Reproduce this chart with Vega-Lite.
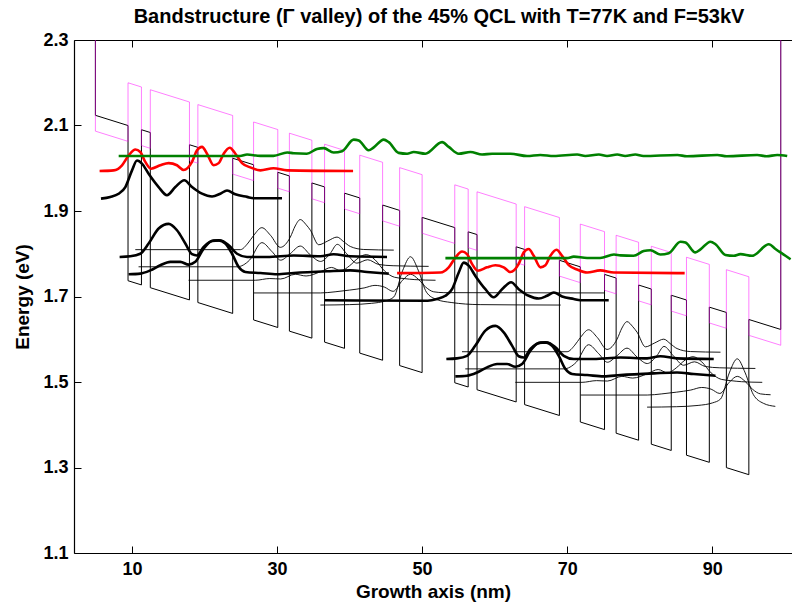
{
  "$schema": "https://vega.github.io/schema/vega-lite/v6.json",
  "width": 718,
  "height": 513,
  "autosize": {"type": "none"},
  "padding": {"left": 74, "top": 40, "right": 0, "bottom": 55},
  "title": {
    "text": "Bandstructure (Γ valley) of the 45% QCL with T=77K and F=53kV",
    "font": "Liberation Sans",
    "fontSize": 20,
    "fontWeight": "bold",
    "color": "black",
    "anchor": "middle",
    "dx": 6,
    "offset": 4
  },
  "config": {
    "view": {"stroke": null},
    "axis": {
      "labelFont": "Liberation Sans",
      "labelFontWeight": "bold",
      "labelFontSize": 18,
      "labelColor": "black",
      "titleFont": "Liberation Sans",
      "titleFontWeight": "bold",
      "titleFontSize": 19,
      "titleColor": "black",
      "domain": true,
      "domainColor": "black",
      "domainWidth": 1.2,
      "tickColor": "black",
      "tickWidth": 1,
      "grid": false
    }
  },
  "datasets": {
    "gamma": [
      {"i":0,"x":4.95,"y":2.45},{"i":1,"x":4.95,"y":2.1238},{"i":2,"x":9.45,"y":2.0999},{"i":3,"x":9.45,"y":1.7369},
      {"i":4,"x":11.30,"y":1.7271},{"i":5,"x":11.30,"y":2.0901},{"i":6,"x":12.52,"y":2.0836},{"i":7,"x":12.52,"y":1.7206},
      {"i":8,"x":17.92,"y":1.6920},{"i":9,"x":17.92,"y":2.0550},{"i":10,"x":19.08,"y":2.0489},{"i":11,"x":19.08,"y":1.6859},
      {"i":12,"x":23.88,"y":1.6604},{"i":13,"x":23.88,"y":2.0234},{"i":14,"x":26.76,"y":2.0082},{"i":15,"x":26.76,"y":1.6452},
      {"i":16,"x":30.10,"y":1.6275},{"i":17,"x":30.10,"y":1.9905},{"i":18,"x":31.70,"y":1.9820},{"i":19,"x":31.70,"y":1.6190},
      {"i":20,"x":34.80,"y":1.6026},{"i":21,"x":34.80,"y":1.9656},{"i":22,"x":36.55,"y":1.9563},{"i":23,"x":36.55,"y":1.5933},
      {"i":24,"x":39.30,"y":1.5787},{"i":25,"x":39.30,"y":1.9417},{"i":26,"x":41.40,"y":1.9306},{"i":27,"x":41.40,"y":1.5676},
      {"i":28,"x":44.55,"y":1.5509},{"i":29,"x":44.55,"y":1.9139},{"i":30,"x":46.90,"y":1.9014},{"i":31,"x":46.90,"y":1.5384},
      {"i":32,"x":50.00,"y":1.5220},{"i":33,"x":50.00,"y":1.8850},{"i":34,"x":54.50,"y":1.8612},{"i":35,"x":54.50,"y":1.4982},
      {"i":36,"x":56.35,"y":1.4883},{"i":37,"x":56.35,"y":1.8513},{"i":38,"x":57.57,"y":1.8449},{"i":39,"x":57.57,"y":1.4819},
      {"i":40,"x":62.97,"y":1.4533},{"i":41,"x":62.97,"y":1.8163},{"i":42,"x":64.13,"y":1.8101},{"i":43,"x":64.13,"y":1.4471},
      {"i":44,"x":68.93,"y":1.4217},{"i":45,"x":68.93,"y":1.7847},{"i":46,"x":71.81,"y":1.7694},{"i":47,"x":71.81,"y":1.4064},
      {"i":48,"x":75.15,"y":1.3887},{"i":49,"x":75.15,"y":1.7517},{"i":50,"x":76.75,"y":1.7432},{"i":51,"x":76.75,"y":1.3802},
      {"i":52,"x":79.85,"y":1.3638},{"i":53,"x":79.85,"y":1.7268},{"i":54,"x":81.60,"y":1.7175},{"i":55,"x":81.60,"y":1.3545},
      {"i":56,"x":84.35,"y":1.3399},{"i":57,"x":84.35,"y":1.7029},{"i":58,"x":86.45,"y":1.6918},{"i":59,"x":86.45,"y":1.3288},
      {"i":60,"x":89.60,"y":1.3121},{"i":61,"x":89.60,"y":1.6751},{"i":62,"x":91.95,"y":1.6627},{"i":63,"x":91.95,"y":1.2997},
      {"i":64,"x":95.05,"y":1.2832},{"i":65,"x":95.05,"y":1.6462},{"i":66,"x":99.45,"y":1.6229},{"i":67,"x":99.45,"y":2.45}
    ],
    "xband": [
      {"i":0,"x":4.95,"y":2.45},{"i":1,"x":4.95,"y":2.0868},{"i":2,"x":9.45,"y":2.0629},{"i":3,"x":9.45,"y":2.1999},
      {"i":4,"x":11.30,"y":2.1901},{"i":5,"x":11.30,"y":2.0531},{"i":6,"x":12.52,"y":2.0466},{"i":7,"x":12.52,"y":2.1836},
      {"i":8,"x":17.92,"y":2.1550},{"i":9,"x":17.92,"y":2.0180},{"i":10,"x":19.08,"y":2.0119},{"i":11,"x":19.08,"y":2.1489},
      {"i":12,"x":23.88,"y":2.1234},{"i":13,"x":23.88,"y":1.9864},{"i":14,"x":26.76,"y":1.9712},{"i":15,"x":26.76,"y":2.1082},
      {"i":16,"x":30.10,"y":2.0905},{"i":17,"x":30.10,"y":1.9535},{"i":18,"x":31.70,"y":1.9450},{"i":19,"x":31.70,"y":2.0820},
      {"i":20,"x":34.80,"y":2.0656},{"i":21,"x":34.80,"y":1.9286},{"i":22,"x":36.55,"y":1.9193},{"i":23,"x":36.55,"y":2.0563},
      {"i":24,"x":39.30,"y":2.0417},{"i":25,"x":39.30,"y":1.9047},{"i":26,"x":41.40,"y":1.8936},{"i":27,"x":41.40,"y":2.0306},
      {"i":28,"x":44.55,"y":2.0139},{"i":29,"x":44.55,"y":1.8769},{"i":30,"x":46.90,"y":1.8644},{"i":31,"x":46.90,"y":2.0014},
      {"i":32,"x":50.00,"y":1.9850},{"i":33,"x":50.00,"y":1.8480},{"i":34,"x":54.50,"y":1.8242},{"i":35,"x":54.50,"y":1.9612},
      {"i":36,"x":56.35,"y":1.9513},{"i":37,"x":56.35,"y":1.8143},{"i":38,"x":57.57,"y":1.8079},{"i":39,"x":57.57,"y":1.9449},
      {"i":40,"x":62.97,"y":1.9163},{"i":41,"x":62.97,"y":1.7793},{"i":42,"x":64.13,"y":1.7731},{"i":43,"x":64.13,"y":1.9101},
      {"i":44,"x":68.93,"y":1.8847},{"i":45,"x":68.93,"y":1.7477},{"i":46,"x":71.81,"y":1.7324},{"i":47,"x":71.81,"y":1.8694},
      {"i":48,"x":75.15,"y":1.8517},{"i":49,"x":75.15,"y":1.7147},{"i":50,"x":76.75,"y":1.7062},{"i":51,"x":76.75,"y":1.8432},
      {"i":52,"x":79.85,"y":1.8268},{"i":53,"x":79.85,"y":1.6898},{"i":54,"x":81.60,"y":1.6805},{"i":55,"x":81.60,"y":1.8175},
      {"i":56,"x":84.35,"y":1.8029},{"i":57,"x":84.35,"y":1.6659},{"i":58,"x":86.45,"y":1.6548},{"i":59,"x":86.45,"y":1.7918},
      {"i":60,"x":89.60,"y":1.7751},{"i":61,"x":89.60,"y":1.6381},{"i":62,"x":91.95,"y":1.6257},{"i":63,"x":91.95,"y":1.7627},
      {"i":64,"x":95.05,"y":1.7462},{"i":65,"x":95.05,"y":1.6092},{"i":66,"x":99.45,"y":1.5859},{"i":67,"x":99.45,"y":2.45}
    ],
    "thin": [
      {"s":"s1a","x":10.45,"y":1.8096},{"s":"s1a","x":24.94,"y":1.8096},{"s":"s1a","x":26.0,"y":1.825},{"s":"s1a","x":26.78,"y":1.843},{"s":"s1a","x":27.9,"y":1.861},{"s":"s1a","x":29.1,"y":1.843},{"s":"s1a","x":30.45,"y":1.815},{"s":"s1a","x":31.83,"y":1.839},{"s":"s1a","x":32.5,"y":1.865},{"s":"s1a","x":33.2,"y":1.880},{"s":"s1a","x":34.0,"y":1.868},{"s":"s1a","x":34.6,"y":1.855},{"s":"s1a","x":35.74,"y":1.821},{"s":"s1a","x":37.0,"y":1.830},{"s":"s1a","x":38.27,"y":1.839},{"s":"s1a","x":39.2,"y":1.828},{"s":"s1a","x":40.1,"y":1.817},{"s":"s1a","x":41.95,"y":1.810},{"s":"s1a","x":46.09,"y":1.8085},
      {"s":"s2a","x":10.9,"y":1.7695},{"s":"s2a","x":24.5,"y":1.7695},{"s":"s2a","x":26.2,"y":1.785},{"s":"s2a","x":27.9,"y":1.826},{"s":"s2a","x":29.3,"y":1.805},{"s":"s2a","x":30.5,"y":1.785},{"s":"s2a","x":31.8,"y":1.800},{"s":"s2a","x":33.2,"y":1.818},{"s":"s2a","x":34.6,"y":1.797},{"s":"s2a","x":36.0,"y":1.782},{"s":"s2a","x":37.3,"y":1.800},{"s":"s2a","x":38.3,"y":1.822},{"s":"s2a","x":39.6,"y":1.800},{"s":"s2a","x":41.0,"y":1.778},{"s":"s2a","x":42.5,"y":1.786},{"s":"s2a","x":44.0,"y":1.775},{"s":"s2a","x":46.0,"y":1.772},{"s":"s2a","x":50.9,"y":1.7705},
      {"s":"s3a","x":17.8,"y":1.738},{"s":"s3a","x":27.0,"y":1.738},{"s":"s3a","x":29.0,"y":1.742},{"s":"s3a","x":30.5,"y":1.741},{"s":"s3a","x":32.5,"y":1.752},{"s":"s3a","x":34.0,"y":1.748},{"s":"s3a","x":36.0,"y":1.758},{"s":"s3a","x":37.5,"y":1.768},{"s":"s3a","x":38.8,"y":1.760},{"s":"s3a","x":40.0,"y":1.772},{"s":"s3a","x":41.2,"y":1.790},{"s":"s3a","x":42.3,"y":1.798},{"s":"s3a","x":43.5,"y":1.786},{"s":"s3a","x":44.8,"y":1.760},{"s":"s3a","x":46.2,"y":1.745},{"s":"s3a","x":47.5,"y":1.742},{"s":"s3a","x":49.0,"y":1.7395},{"s":"s3a","x":51.85,"y":1.738},
      {"s":"s4a","x":26.8,"y":1.7083},{"s":"s4a","x":36.0,"y":1.7083},{"s":"s4a","x":38.0,"y":1.711},{"s":"s4a","x":40.0,"y":1.715},{"s":"s4a","x":42.0,"y":1.720},{"s":"s4a","x":43.5,"y":1.726},{"s":"s4a","x":44.8,"y":1.722},{"s":"s4a","x":46.0,"y":1.712},{"s":"s4a","x":47.3,"y":1.738},{"s":"s4a","x":48.4,"y":1.752},{"s":"s4a","x":49.5,"y":1.740},{"s":"s4a","x":50.5,"y":1.722},{"s":"s4a","x":51.6,"y":1.711},{"s":"s4a","x":53.0,"y":1.709},{"s":"s4a","x":75.1,"y":1.7083},
      {"s":"s5a","x":35.97,"y":1.680},{"s":"s5a","x":40.0,"y":1.681},{"s":"s5a","x":43.0,"y":1.684},{"s":"s5a","x":45.0,"y":1.690},{"s":"s5a","x":46.1,"y":1.699},{"s":"s5a","x":47.3,"y":1.760},{"s":"s5a","x":48.4,"y":1.793},{"s":"s5a","x":49.5,"y":1.760},{"s":"s5a","x":50.6,"y":1.710},{"s":"s5a","x":52.0,"y":1.693},{"s":"s5a","x":54.0,"y":1.686},{"s":"s5a","x":58.0,"y":1.681},{"s":"s5a","x":69.1,"y":1.680},
      {"s":"s1b","x":55.50,"y":1.5708},{"s":"s1b","x":69.99,"y":1.5708},{"s":"s1b","x":71.05,"y":1.5862},{"s":"s1b","x":71.83,"y":1.6042},{"s":"s1b","x":72.95,"y":1.6222},{"s":"s1b","x":74.15,"y":1.6042},{"s":"s1b","x":75.50,"y":1.5762},{"s":"s1b","x":76.88,"y":1.6002},{"s":"s1b","x":77.55,"y":1.6262},{"s":"s1b","x":78.25,"y":1.6412},{"s":"s1b","x":79.05,"y":1.6292},{"s":"s1b","x":79.65,"y":1.6162},{"s":"s1b","x":80.79,"y":1.5822},{"s":"s1b","x":82.05,"y":1.5912},{"s":"s1b","x":83.32,"y":1.6002},{"s":"s1b","x":84.25,"y":1.5892},{"s":"s1b","x":85.15,"y":1.5782},{"s":"s1b","x":87.00,"y":1.5712},{"s":"s1b","x":91.14,"y":1.5697},
      {"s":"s2b","x":55.95,"y":1.5307},{"s":"s2b","x":69.55,"y":1.5307},{"s":"s2b","x":71.25,"y":1.5462},{"s":"s2b","x":72.95,"y":1.5872},{"s":"s2b","x":74.35,"y":1.5662},{"s":"s2b","x":75.55,"y":1.5462},{"s":"s2b","x":76.85,"y":1.5612},{"s":"s2b","x":78.25,"y":1.5792},{"s":"s2b","x":79.65,"y":1.5582},{"s":"s2b","x":81.05,"y":1.5432},{"s":"s2b","x":82.35,"y":1.5612},{"s":"s2b","x":83.35,"y":1.5832},{"s":"s2b","x":84.65,"y":1.5612},{"s":"s2b","x":86.05,"y":1.5392},{"s":"s2b","x":87.55,"y":1.5472},{"s":"s2b","x":89.05,"y":1.5362},{"s":"s2b","x":91.05,"y":1.5332},{"s":"s2b","x":95.95,"y":1.5317},
      {"s":"s3b","x":62.85,"y":1.4992},{"s":"s3b","x":72.05,"y":1.4992},{"s":"s3b","x":74.05,"y":1.5032},{"s":"s3b","x":75.55,"y":1.5022},{"s":"s3b","x":77.55,"y":1.5132},{"s":"s3b","x":79.05,"y":1.5092},{"s":"s3b","x":81.05,"y":1.5192},{"s":"s3b","x":82.55,"y":1.5292},{"s":"s3b","x":83.85,"y":1.5212},{"s":"s3b","x":85.05,"y":1.5332},{"s":"s3b","x":86.25,"y":1.5512},{"s":"s3b","x":87.35,"y":1.5592},{"s":"s3b","x":88.55,"y":1.5472},{"s":"s3b","x":89.85,"y":1.5212},{"s":"s3b","x":91.25,"y":1.5062},{"s":"s3b","x":92.55,"y":1.5032},{"s":"s3b","x":94.05,"y":1.5007},{"s":"s3b","x":96.90,"y":1.4992},
      {"s":"s4b","x":71.85,"y":1.4695},{"s":"s4b","x":81.05,"y":1.4695},{"s":"s4b","x":83.05,"y":1.4722},{"s":"s4b","x":85.05,"y":1.4762},{"s":"s4b","x":87.05,"y":1.4812},{"s":"s4b","x":88.55,"y":1.4872},{"s":"s4b","x":89.85,"y":1.4832},{"s":"s4b","x":91.05,"y":1.4732},{"s":"s4b","x":92.35,"y":1.4992},{"s":"s4b","x":93.45,"y":1.5132},{"s":"s4b","x":94.55,"y":1.5012},{"s":"s4b","x":95.55,"y":1.4832},{"s":"s4b","x":96.65,"y":1.4722},{"s":"s4b","x":98.05,"y":1.4702},
      {"s":"s5b","x":81.02,"y":1.4412},{"s":"s5b","x":85.05,"y":1.4422},{"s":"s5b","x":88.05,"y":1.4452},{"s":"s5b","x":90.05,"y":1.4512},{"s":"s5b","x":91.15,"y":1.4602},{"s":"s5b","x":92.35,"y":1.5212},{"s":"s5b","x":93.45,"y":1.5542},{"s":"s5b","x":94.55,"y":1.5212},{"s":"s5b","x":95.65,"y":1.4712},{"s":"s5b","x":97.05,"y":1.4502},{"s":"s5b","x":98.7,"y":1.4430}
    ],
    "thick": [
      {"s":"t0a","x":5.72,"y":1.929},{"s":"t0a","x":7.0,"y":1.933},{"s":"t0a","x":8.16,"y":1.9405},{"s":"t0a","x":9.08,"y":1.956},{"s":"t0a","x":10.0,"y":1.995},{"s":"t0a","x":10.69,"y":2.018},{"s":"t0a","x":11.37,"y":2.011},{"s":"t0a","x":12.29,"y":1.987},{"s":"t0a","x":13.67,"y":1.956},{"s":"t0a","x":14.82,"y":1.937},{"s":"t0a","x":15.97,"y":1.956},{"s":"t0a","x":17.21,"y":1.972},{"s":"t0a","x":18.27,"y":1.956},{"s":"t0a","x":19.65,"y":1.9405},{"s":"t0a","x":21.03,"y":1.934},{"s":"t0a","x":22.18,"y":1.9405},{"s":"t0a","x":23.1,"y":1.948},{"s":"t0a","x":24.25,"y":1.939},{"s":"t0a","x":25.86,"y":1.933},{"s":"t0a","x":26.78,"y":1.930},{"s":"t0a","x":30.68,"y":1.930},
      {"s":"t1a","x":8.29,"y":1.7925},{"s":"t1a","x":9.76,"y":1.794},{"s":"t1a","x":11.14,"y":1.800},{"s":"t1a","x":12.29,"y":1.824},{"s":"t1a","x":13.67,"y":1.859},{"s":"t1a","x":15.05,"y":1.870},{"s":"t1a","x":16.2,"y":1.855},{"s":"t1a","x":17.35,"y":1.824},{"s":"t1a","x":18.27,"y":1.799},{"s":"t1a","x":18.96,"y":1.796},{"s":"t1a","x":19.88,"y":1.816},{"s":"t1a","x":21.26,"y":1.831},{"s":"t1a","x":22.18,"y":1.831},{"s":"t1a","x":23.33,"y":1.820},{"s":"t1a","x":24.48,"y":1.800},{"s":"t1a","x":25.86,"y":1.7925},{"s":"t1a","x":28.62,"y":1.7925},{"s":"t1a","x":32.3,"y":1.796},{"s":"t1a","x":35.97,"y":1.794},{"s":"t1a","x":37.8,"y":1.799},{"s":"t1a","x":40.1,"y":1.794},{"s":"t1a","x":45.16,"y":1.7925},
      {"s":"t2a","x":9.53,"y":1.752},{"s":"t2a","x":11.14,"y":1.7535},{"s":"t2a","x":12.52,"y":1.761},{"s":"t2a","x":13.9,"y":1.773},{"s":"t2a","x":15.28,"y":1.781},{"s":"t2a","x":16.66,"y":1.781},{"s":"t2a","x":17.81,"y":1.7745},{"s":"t2a","x":18.73,"y":1.781},{"s":"t2a","x":19.88,"y":1.812},{"s":"t2a","x":21.03,"y":1.830},{"s":"t2a","x":21.95,"y":1.8314},{"s":"t2a","x":22.87,"y":1.8236},{"s":"t2a","x":23.79,"y":1.800},{"s":"t2a","x":24.71,"y":1.769},{"s":"t2a","x":25.63,"y":1.7574},{"s":"t2a","x":27.7,"y":1.755},{"s":"t2a","x":30.0,"y":1.752},{"s":"t2a","x":32.3,"y":1.755},{"s":"t2a","x":36.9,"y":1.759},{"s":"t2a","x":40.1,"y":1.761},{"s":"t2a","x":42.4,"y":1.7574},{"s":"t2a","x":45.4,"y":1.7535},
      {"s":"t0b","x":36.6,"y":1.6912},{"s":"t0b","x":50.77,"y":1.6902},{"s":"t0b","x":52.05,"y":1.6942},{"s":"t0b","x":53.21,"y":1.7017},{"s":"t0b","x":54.13,"y":1.7172},{"s":"t0b","x":55.05,"y":1.7562},{"s":"t0b","x":55.74,"y":1.7792},{"s":"t0b","x":56.42,"y":1.7722},{"s":"t0b","x":57.34,"y":1.7482},{"s":"t0b","x":58.72,"y":1.7172},{"s":"t0b","x":59.87,"y":1.6982},{"s":"t0b","x":61.02,"y":1.7172},{"s":"t0b","x":62.26,"y":1.7332},{"s":"t0b","x":63.32,"y":1.7172},{"s":"t0b","x":64.70,"y":1.7017},{"s":"t0b","x":66.08,"y":1.6952},{"s":"t0b","x":67.23,"y":1.7017},{"s":"t0b","x":68.15,"y":1.7092},{"s":"t0b","x":69.30,"y":1.7002},{"s":"t0b","x":70.91,"y":1.6942},{"s":"t0b","x":71.83,"y":1.6912},{"s":"t0b","x":75.73,"y":1.6912},
      {"s":"t1b","x":53.34,"y":1.5537},{"s":"t1b","x":54.81,"y":1.5552},{"s":"t1b","x":56.19,"y":1.5612},{"s":"t1b","x":57.34,"y":1.5852},{"s":"t1b","x":58.72,"y":1.6202},{"s":"t1b","x":60.10,"y":1.6312},{"s":"t1b","x":61.25,"y":1.6162},{"s":"t1b","x":62.40,"y":1.5852},{"s":"t1b","x":63.32,"y":1.5602},{"s":"t1b","x":64.01,"y":1.5572},{"s":"t1b","x":64.93,"y":1.5772},{"s":"t1b","x":66.31,"y":1.5922},{"s":"t1b","x":67.23,"y":1.5922},{"s":"t1b","x":68.38,"y":1.5812},{"s":"t1b","x":69.53,"y":1.5612},{"s":"t1b","x":70.91,"y":1.5537},{"s":"t1b","x":73.67,"y":1.5537},{"s":"t1b","x":77.35,"y":1.5572},{"s":"t1b","x":81.02,"y":1.5552},{"s":"t1b","x":82.85,"y":1.5602},{"s":"t1b","x":85.15,"y":1.5552},{"s":"t1b","x":90.21,"y":1.5537},
      {"s":"t2b","x":54.58,"y":1.5132},{"s":"t2b","x":56.19,"y":1.5147},{"s":"t2b","x":57.57,"y":1.5222},{"s":"t2b","x":58.95,"y":1.5342},{"s":"t2b","x":60.33,"y":1.5422},{"s":"t2b","x":61.71,"y":1.5422},{"s":"t2b","x":62.86,"y":1.5357},{"s":"t2b","x":63.78,"y":1.5422},{"s":"t2b","x":64.93,"y":1.5732},{"s":"t2b","x":66.08,"y":1.5912},{"s":"t2b","x":67.00,"y":1.5926},{"s":"t2b","x":67.92,"y":1.5848},{"s":"t2b","x":68.84,"y":1.5612},{"s":"t2b","x":69.76,"y":1.5302},{"s":"t2b","x":70.68,"y":1.5186},{"s":"t2b","x":72.75,"y":1.5162},{"s":"t2b","x":75.05,"y":1.5132},{"s":"t2b","x":77.35,"y":1.5162},{"s":"t2b","x":81.95,"y":1.5202},{"s":"t2b","x":85.15,"y":1.5222},{"s":"t2b","x":87.45,"y":1.5186},{"s":"t2b","x":90.45,"y":1.5147}
    ],
    "red": [
      {"s":"ra","x":5.53,"y":1.9935},{"s":"ra","x":7.47,"y":1.995},{"s":"ra","x":8.62,"y":2.007},{"s":"ra","x":9.54,"y":2.030},{"s":"ra","x":10.46,"y":2.044},{"s":"ra","x":11.14,"y":2.038},{"s":"ra","x":11.83,"y":2.015},{"s":"ra","x":12.62,"y":1.999},{"s":"ra","x":13.9,"y":2.007},{"s":"ra","x":15.05,"y":2.012},{"s":"ra","x":16.2,"y":2.007},{"s":"ra","x":17.12,"y":1.996},{"s":"ra","x":18.27,"y":2.015},{"s":"ra","x":18.96,"y":2.042},{"s":"ra","x":19.65,"y":2.050},{"s":"ra","x":20.34,"y":2.034},{"s":"ra","x":21.26,"y":2.007},{"s":"ra","x":21.95,"y":2.012},{"s":"ra","x":22.64,"y":2.034},{"s":"ra","x":23.47,"y":2.048},{"s":"ra","x":24.25,"y":2.034},{"s":"ra","x":25.17,"y":2.012},{"s":"ra","x":26.32,"y":2.002},{"s":"ra","x":27.7,"y":1.995},{"s":"ra","x":29.5,"y":2.000},{"s":"ra","x":31.4,"y":1.995},{"s":"ra","x":40.48,"y":1.9935},
      {"s":"rb","x":46.55,"y":1.7547},{"s":"rb","x":52.52,"y":1.7562},{"s":"rb","x":53.67,"y":1.7682},{"s":"rb","x":54.59,"y":1.7912},{"s":"rb","x":55.51,"y":1.8052},{"s":"rb","x":56.19,"y":1.7992},{"s":"rb","x":56.88,"y":1.7762},{"s":"rb","x":57.67,"y":1.7602},{"s":"rb","x":58.95,"y":1.7682},{"s":"rb","x":60.10,"y":1.7732},{"s":"rb","x":61.25,"y":1.7682},{"s":"rb","x":62.17,"y":1.7572},{"s":"rb","x":63.32,"y":1.7762},{"s":"rb","x":64.01,"y":1.8032},{"s":"rb","x":64.70,"y":1.8112},{"s":"rb","x":65.39,"y":1.7952},{"s":"rb","x":66.31,"y":1.7682},{"s":"rb","x":67.00,"y":1.7732},{"s":"rb","x":67.69,"y":1.7952},{"s":"rb","x":68.52,"y":1.8092},{"s":"rb","x":69.30,"y":1.7952},{"s":"rb","x":70.22,"y":1.7732},{"s":"rb","x":71.37,"y":1.7632},{"s":"rb","x":72.75,"y":1.7562},{"s":"rb","x":74.55,"y":1.7612},{"s":"rb","x":76.45,"y":1.7562},{"s":"rb","x":86.2,"y":1.7547}
    ],
    "green": [
      {"s":"ga","x":8.16,"y":2.0285},{"s":"ga","x":24.9,"y":2.0285},{"s":"ga","x":25.86,"y":2.032},{"s":"ga","x":27.7,"y":2.029},{"s":"ga","x":29.5,"y":2.029},{"s":"ga","x":31.4,"y":2.037},{"s":"ga","x":32.3,"y":2.035},{"s":"ga","x":34.1,"y":2.034},{"s":"ga","x":35.5,"y":2.045},{"s":"ga","x":36.43,"y":2.047},{"s":"ga","x":37.8,"y":2.037},{"s":"ga","x":38.96,"y":2.040},{"s":"ga","x":40.57,"y":2.067},{"s":"ga","x":41.26,"y":2.065},{"s":"ga","x":42.63,"y":2.042},{"s":"ga","x":43.33,"y":2.049},{"s":"ga","x":44.7,"y":2.067},{"s":"ga","x":45.4,"y":2.061},{"s":"ga","x":46.77,"y":2.036},{"s":"ga","x":47.92,"y":2.034},{"s":"ga","x":48.84,"y":2.038},{"s":"ga","x":50.45,"y":2.034},{"s":"ga","x":52.75,"y":2.061},{"s":"ga","x":53.67,"y":2.050},{"s":"ga","x":55.05,"y":2.034},{"s":"ga","x":56.66,"y":2.038},{"s":"ga","x":58.27,"y":2.032},{"s":"ga","x":59.65,"y":2.034},{"s":"ga","x":62.18,"y":2.034},{"s":"ga","x":64.47,"y":2.0285},{"s":"ga","x":66.3,"y":2.031},{"s":"ga","x":68.15,"y":2.0285},{"s":"ga","x":71.38,"y":2.032},{"s":"ga","x":72.5,"y":2.0285},{"s":"ga","x":74.37,"y":2.032},{"s":"ga","x":75.5,"y":2.0285},{"s":"ga","x":76.9,"y":2.032},{"s":"ga","x":78.0,"y":2.0285},{"s":"ga","x":79.4,"y":2.032},{"s":"ga","x":80.5,"y":2.0285},{"s":"ga","x":85.2,"y":2.031},{"s":"ga","x":86.5,"y":2.028},{"s":"ga","x":90.7,"y":2.031},{"s":"ga","x":92.0,"y":2.028},{"s":"ga","x":96.2,"y":2.031},{"s":"ga","x":97.5,"y":2.028},{"s":"ga","x":98.96,"y":2.031},{"s":"ga","x":100.34,"y":2.0285},
      {"s":"gb","x":53.21,"y":1.7897},{"s":"gb","x":69.95,"y":1.7897},{"s":"gb","x":70.91,"y":1.7932},{"s":"gb","x":72.75,"y":1.7902},{"s":"gb","x":74.55,"y":1.7902},{"s":"gb","x":76.45,"y":1.7982},{"s":"gb","x":77.35,"y":1.7962},{"s":"gb","x":79.15,"y":1.7952},{"s":"gb","x":80.55,"y":1.8062},{"s":"gb","x":81.48,"y":1.8082},{"s":"gb","x":82.85,"y":1.7982},{"s":"gb","x":84.01,"y":1.8012},{"s":"gb","x":85.62,"y":1.8282},{"s":"gb","x":86.31,"y":1.8262},{"s":"gb","x":87.68,"y":1.8032},{"s":"gb","x":88.38,"y":1.8102},{"s":"gb","x":89.75,"y":1.8282},{"s":"gb","x":90.45,"y":1.8222},{"s":"gb","x":91.82,"y":1.7972},{"s":"gb","x":92.97,"y":1.7952},{"s":"gb","x":93.89,"y":1.7992},{"s":"gb","x":95.5,"y":1.7952},{"s":"gb","x":97.8,"y":1.8222},{"s":"gb","x":98.72,"y":1.8112},{"s":"gb","x":100.1,"y":1.7952},{"s":"gb","x":100.8,"y":1.787}
    ]
  },
  "encoding": {
    "y": {
      "field": "y",
      "type": "quantitative",
      "scale": {"domain": [1.1, 2.3], "nice": false, "zero": false},
      "axis": {
        "values": [1.1, 1.3, 1.5, 1.7, 1.9, 2.1, 2.3],
        "format": ".1f",
        "domain": true,
        "tickSize": -7,
        "labelPadding": 13,
        "title": "Energy (eV)",
        "titlePadding": 10
      }
    }
  },
  "resolve": {"axis": {"x": "independent"}},
  "layer": [
    {
      "data": {"name": "thin"},
      "mark": {"type": "line", "color": "black", "strokeWidth": 0.9, "interpolate": "monotone", "clip": true},
      "encoding": {
        "x": {
          "field": "x",
          "type": "quantitative",
          "scale": {"domain": [2, 101], "nice": false, "zero": false},
          "axis": {
            "values": [10, 30, 50, 70, 90],
            "tickSize": -7,
            "labelPadding": 14,
            "title": "Growth axis (nm)",
            "titlePadding": 4
          }
        },
        "detail": {"field": "s"}
      }
    },
    {
      "data": {"name": "gamma"},
      "mark": {"type": "line", "color": "black", "strokeWidth": 1, "clip": true},
      "encoding": {
        "x": {
          "field": "x",
          "type": "quantitative",
          "axis": {
            "orient": "top",
            "values": [10, 30, 50, 70, 90],
            "tickSize": -7,
            "labels": false,
            "title": null
          }
        },
        "order": {"field": "i", "type": "quantitative"}
      }
    },
    {
      "data": {"name": "xband"},
      "mark": {"type": "line", "color": "#ff00ff", "opacity": 0.5, "strokeWidth": 1, "clip": true},
      "encoding": {
        "x": {"field": "x", "type": "quantitative", "axis": null},
        "order": {"field": "i", "type": "quantitative"}
      }
    },
    {
      "data": {"name": "thick"},
      "mark": {"type": "line", "color": "black", "strokeWidth": 2.6, "interpolate": "monotone", "clip": true},
      "encoding": {
        "x": {"field": "x", "type": "quantitative", "axis": null},
        "detail": {"field": "s"}
      }
    },
    {
      "data": {"name": "red"},
      "mark": {"type": "line", "color": "#ff0000", "strokeWidth": 2.6, "interpolate": "monotone", "clip": true},
      "encoding": {
        "x": {"field": "x", "type": "quantitative", "axis": null},
        "detail": {"field": "s"}
      }
    },
    {
      "data": {"name": "green"},
      "mark": {"type": "line", "color": "#008000", "strokeWidth": 2.6, "interpolate": "monotone", "clip": true},
      "encoding": {
        "x": {"field": "x", "type": "quantitative", "axis": null},
        "detail": {"field": "s"}
      }
    }
  ]
}
